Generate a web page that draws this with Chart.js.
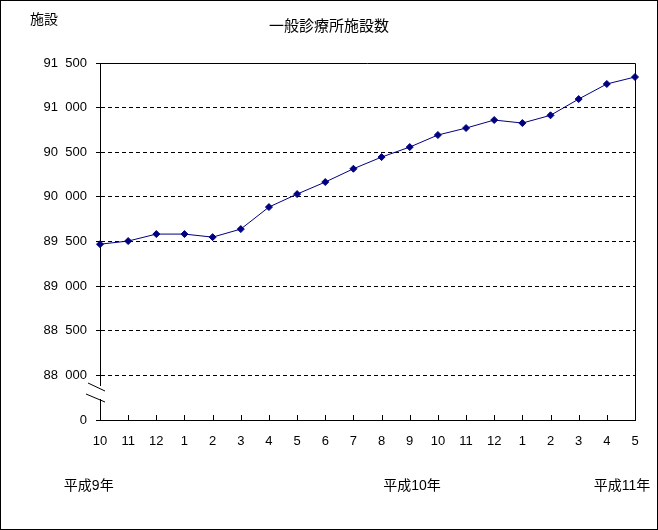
<!DOCTYPE html>
<html>
<head>
<meta charset="utf-8">
<script src="https://cdn.jsdelivr.net/npm/chart.js@4"></script>
<style>
  html, body { margin: 0; padding: 0; background: #fff; }
  #wrap { width: 658px; height: 530px; }
</style>
</head>
<body>
<div id="wrap"><canvas id="clinicChart" width="658" height="530"></canvas></div>
<script>
// months (平成9年10月 - 平成11年5月)
const months = ['10', '11', '12', '1', '2', '3', '4', '5', '6', '7', '8', '9', '10', '11', '12', '1', '2', '3', '4', '5'];
const clinics = [89470, 89505, 89583, 89583, 89549, 89639, 89886, 90031, 90166, 90315,
                 90446, 90558, 90693, 90771, 90861, 90827, 90914, 91096, 91265, 91343];
const yearLabels = ['平成9年', '平成10年', '平成11年'];
const chartTitle = '一般診療所施設数';
const unitLabel = '施設';

const FONT = "'Liberation Sans', 'Noto Sans CJK JP', sans-serif";

function fmt(v) {
    if (v === 87500) return '0';
    const th = Math.floor(v / 1000);
    const rest = String(v % 1000).padStart(3, '0');
    return th + '\u2007' + rest;
}

const decorations = {
    id: 'decorations',
    afterDraw(chart) {
        const ctx = chart.ctx;
        const a = chart.chartArea;
        const x = chart.scales.x;
        ctx.save();
        ctx.strokeStyle = '#000';
        ctx.lineWidth = 1;
        // plot frame top & right
        ctx.beginPath();
        ctx.moveTo(a.left, a.top + 0.5);
        ctx.lineTo(a.right + 0.5, a.top + 0.5);
        ctx.lineTo(a.right + 0.5, a.bottom);
        ctx.stroke();
        // small inward ticks on bottom axis
        ctx.beginPath();
        for (let i = 1; i < months.length - 1; i++) {
            const px = Math.round(x.getPixelForValue(i)) + 0.5;
            ctx.moveTo(px, a.bottom);
            ctx.lineTo(px, a.bottom - 5);
        }
        ctx.stroke();
        // axis break on the left axis
        const by = a.bottom - 27;
        ctx.fillStyle = '#fff';
        ctx.fillRect(a.left - 2, by - 7, 5, 13);
        ctx.beginPath();
        ctx.moveTo(a.left - 12, by - 10);
        ctx.lineTo(a.left + 5, by - 2);
        ctx.moveTo(a.left - 14, by + 1);
        ctx.lineTo(a.left + 5, by + 9);
        ctx.stroke();
        // texts
        ctx.fillStyle = '#000';
        ctx.textAlign = 'center';
        ctx.textBaseline = 'middle';
        ctx.font = '15px ' + FONT;
        ctx.fillText(chartTitle, 329, 27);
        ctx.font = '14px ' + FONT;
        ctx.fillText(unitLabel, 44, 20);
        const yearAt = [-0.4, 11.08, 18.54];
        yearLabels.forEach((t, i) => {
            ctx.fillText(t, x.getPixelForValue(yearAt[i]), a.bottom + 66);
        });
        // outer frame
        ctx.strokeRect(0.5, 0.5, chart.width - 1, chart.height - 1);
        ctx.restore();
    }
};

new Chart(document.getElementById('clinicChart'), {
    type: 'line',
    data: {
        labels: months,
        datasets: [{
            data: clinics,
            borderColor: '#000080',
            backgroundColor: '#000080',
            borderWidth: 1,
            pointStyle: 'rectRot',
            pointRadius: 3.5,
            pointBorderWidth: 1,
            tension: 0
        }]
    },
    plugins: [decorations],
    options: {
        responsive: false,
        animation: false,
        layout: { padding: { top: 63, right: 23, left: 0, bottom: 0 } },
        plugins: {
            legend: { display: false },
            tooltip: { enabled: false },
            title: { display: false }
        },
        scales: {
            x: {
                offset: false,
                grid: { display: false, drawTicks: false },
                border: { display: true, color: '#000', width: 1 },
                ticks: {
                    color: '#000',
                    font: { family: FONT, size: 13 },
                    padding: 14,
                    maxRotation: 0,
                    autoSkip: false
                },
                afterFit(axis) { axis.height = 110; }
            },
            y: {
                min: 87500,
                max: 91500,
                grid: {
                    drawTicks: true,
                    tickLength: 4,
                    tickColor: '#000',
                    color: ctx => (ctx.tick && (ctx.tick.value === 87500 || ctx.tick.value === 91500)) ? 'rgba(0,0,0,0)' : '#000',
                    lineWidth: 1
                },
                border: { display: true, color: '#000', width: 1, dash: [4, 3] },
                ticks: {
                    stepSize: 500,
                    color: '#000',
                    font: { family: FONT, size: 13 },
                    padding: 9,
                    callback: v => fmt(v)
                },
                afterFit(axis) { axis.width = 100; }
            }
        }
    }
});
</script>
</body>
</html>
